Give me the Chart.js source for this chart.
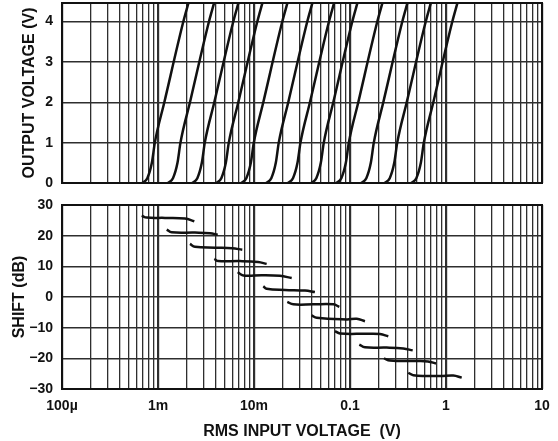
<!DOCTYPE html>
<html>
<head>
<meta charset="utf-8">
<script src="https://cdn.jsdelivr.net/npm/chart.js@4.4.1/dist/chart.umd.min.js"></script>
<style>
  body { margin: 0; background: #fff; }
  #wrap { position: relative; width: 558px; height: 441px; }
  canvas { position: absolute; left: 0; }
</style>
</head>
<body>
<div id="wrap">
  <canvas id="outChart" width="558" height="187" style="top:0"></canvas>
  <canvas id="shiftChart" width="558" height="246" style="top:195px"></canvas>
</div>
<script>
// x axis (RMS input, volts), log scale
var xMin = 1e-4;
var xMax = 10;
var xTickValues = [1e-4, 1e-3, 1e-2, 0.1, 1, 10];
var xTickLabels = ["100\u00b5", "1m", "10m", "0.1", "1", "10"];

// top panel: output voltage levels and the input where each curve hits them
var outTicks = [0, 1, 2, 3, 4];
var outMax = 4.46;
var outLevels = [0, 0.12, 0.5, 1, 2, 4, 4.45];
var outCurveInputs = [
  [6.87e-4, 7.74e-4, 8.63e-4, 9.27e-4, 1.164e-3, 1.837e-3, 2.07e-3],
  [1.271e-3, 1.432e-3, 1.596e-3, 1.714e-3, 2.153e-3, 3.396e-3, 3.828e-3],
  [2.278e-3, 2.568e-3, 2.861e-3, 3.072e-3, 3.859e-3, 6.087e-3, 6.862e-3],
  [4.051e-3, 4.566e-3, 5.087e-3, 5.464e-3, 6.862e-3, 1.083e-2, 1.22e-2],
  [7.379e-3, 8.318e-3, 9.268e-3, 9.954e-3, 1.25e-2, 1.972e-2, 2.223e-2],
  [1.343e-2, 1.514e-2, 1.687e-2, 1.811e-2, 2.275e-2, 3.589e-2, 4.046e-2],
  [2.259e-2, 2.547e-2, 2.838e-2, 3.048e-2, 3.828e-2, 6.039e-2, 6.808e-2],
  [3.954e-2, 4.457e-2, 4.966e-2, 5.333e-2, 6.699e-2, 0.1057, 0.1191],
  [0.072, 0.0812, 0.0905, 0.0972, 0.122, 0.1925, 0.217],
  [0.1312, 0.1479, 0.1648, 0.177, 0.2223, 0.3508, 0.3954],
  [0.2301, 0.2594, 0.2891, 0.3105, 0.3899, 0.6152, 0.6934],
  [0.4355, 0.4909, 0.547, 0.5875, 0.7379, 1.164, 1.312],
];

// bottom panel: shift (dB) segments
var shiftTicks = [-30, -20, -10, 0, 10, 20, 30];
var shiftTickLabels = ["\u221230", "\u221220", "\u221210", "0", "10", "20", "30"];
var shiftInputs = [
  [6.76e-4, 7.62e-4, 1.183e-3, 1.91e-3, 2.39e-3],
  [1.233e-3, 1.389e-3, 2.427e-3, 3.48e-3, 4.19e-3],
  [2.153e-3, 2.427e-3, 3.93e-3, 5.9e-3, 7.55e-3],
  [3.86e-3, 4.25e-3, 7.14e-3, 1.101e-2, 1.355e-2],
  [6.76e-3, 7.74e-3, 1.211e-2, 1.866e-2, 2.47e-2],
  [1.25e-2, 1.355e-2, 2.104e-2, 3.4e-2, 4.31e-2],
  [2.223e-2, 2.565e-2, 4.15e-2, 6.7e-2, 7.74e-2],
  [3.99e-2, 4.5e-2, 9.25e-2, 0.1175, 0.1432],
  [6.98e-2, 7.87e-2, 0.1493, 0.2053, 0.2506],
  [0.125, 0.1432, 0.241, 0.359, 0.45],
  [0.226, 0.261, 0.456, 0.649, 0.787],
  [0.405, 0.456, 0.866, 1.191, 1.458],
];
var shiftDb = [
  [26.5, 25.9, 25.8, 25.6, 24.7],
  [22.0, 21.1, 21.0, 20.8, 20.3],
  [17.3, 16.4, 16.1, 15.9, 15.4],
  [12.4, 11.7, 11.7, 11.4, 10.8],
  [8.1, 7.0, 7.1, 6.9, 6.2],
  [3.5, 2.7, 2.3, 2.1, 1.6],
  [-1.6, -2.4, -2.4, -2.4, -3.2],
  [-6.0, -6.8, -7.3, -7.1, -7.9],
  [-11.1, -11.9, -12.0, -12.1, -12.8],
  [-15.5, -16.4, -16.5, -16.8, -17.4],
  [-20.0, -20.7, -20.9, -21.0, -21.7],
  [-24.7, -25.5, -25.8, -25.6, -26.3],
];

var fontFamily = "'Liberation Sans', Arial, Helvetica, sans-serif";
var inkColor = "#111";
var gridColor = "#2e2e2e";

function isDecade(v) {
  var l = Math.log10(v);
  return Math.abs(l - Math.round(l)) < 1e-6;
}

// 1..9 in every decade, for the log grid
var xGrid = [];
for (var e = -4; e < 1; e++) {
  for (var m = 1; m < 10; m++) xGrid.push(m * Math.pow(10, e));
}
xGrid.push(10);

var boxPlugin = {
  id: "box",
  afterDraw: function (chart) {
    var a = chart.chartArea;
    var c = chart.ctx;
    c.save();
    c.strokeStyle = inkColor;
    c.lineWidth = 2;
    c.strokeRect(a.left, a.top, a.right - a.left, a.bottom - a.top);
    c.restore();
  },
};

function xScale(showLabels) {
  return {
    type: "logarithmic",
    min: xMin,
    max: xMax,
    afterBuildTicks: function (scale) {
      scale.ticks = xGrid.map(function (v) {
        return { value: v, major: isDecade(v) };
      });
    },
    afterFit: function (scale) {
      scale.height = showLabels ? 52 : 4;
      scale.paddingLeft = 0;
      scale.paddingRight = 0;
    },
    border: { display: false },
    grid: {
      color: gridColor,
      lineWidth: function (ctx) {
        return ctx.tick && isDecade(ctx.tick.value) ? 2.2 : 1.3;
      },
      drawTicks: false,
    },
    ticks: {
      display: showLabels,
      autoSkip: false,
      maxRotation: 0,
      padding: 9,
      color: inkColor,
      font: { family: fontFamily, size: 14, weight: "bold" },
      callback: function (v) {
        var i = xTickValues.findIndex(function (t) {
          return Math.abs(Math.log10(t) - Math.log10(v)) < 1e-6;
        });
        return i >= 0 ? xTickLabels[i] : "";
      },
    },
    title: {
      display: showLabels,
      text: "RMS INPUT VOLTAGE  (V)",
      color: inkColor,
      padding: { top: 0, bottom: 0 },
      font: { family: fontFamily, size: 16, weight: "bold" },
    },
  };
}

function yScale(min, max, ticks, labels, title, titleGap) {
  return {
    min: min,
    max: max,
    afterBuildTicks: function (scale) {
      scale.ticks = ticks.map(function (v) { return { value: v }; });
    },
    afterFit: function (scale) {
      scale.width = 62;
      scale.paddingTop = 0;
      scale.paddingBottom = 0;
    },
    border: { display: false },
    grid: { color: gridColor, lineWidth: 1.5, drawTicks: false },
    ticks: {
      padding: 9,
      color: inkColor,
      font: { family: fontFamily, size: 14, weight: "bold" },
      callback: function (v) {
        var i = ticks.indexOf(v);
        return labels ? labels[i] : String(v);
      },
    },
    title: {
      display: true,
      text: title,
      color: inkColor,
      padding: { top: titleGap, bottom: 0 },
      font: { family: fontFamily, size: 16, weight: "bold" },
    },
  };
}

function lineSets(xs, ys, tension) {
  return xs.map(function (row, k) {
    return {
      data: row.map(function (x, j) {
        return { x: x, y: Array.isArray(ys[0]) ? ys[k][j] : ys[j] };
      }),
      borderColor: inkColor,
      borderWidth: 2.5,
      pointRadius: 0,
      tension: tension,
      cubicInterpolationMode: tension ? "default" : "monotone",
      fill: false,
    };
  });
}

var commonOptions = {
  responsive: false,
  animation: false,
  devicePixelRatio: 1,
  plugins: { legend: { display: false }, tooltip: { enabled: false } },
};

new Chart(document.getElementById("outChart").getContext("2d"), {
  type: "line",
  data: { datasets: lineSets(outCurveInputs, outLevels, 0) },
  options: Object.assign({}, commonOptions, {
    layout: { padding: { top: 3, right: 16, left: 0, bottom: 0 } },
    scales: {
      x: xScale(false),
      y: yScale(0, outMax, outTicks, null, "OUTPUT VOLTAGE (V)", 20),
    },
  }),
  plugins: [boxPlugin],
});

new Chart(document.getElementById("shiftChart").getContext("2d"), {
  type: "line",
  data: { datasets: lineSets(shiftInputs, shiftDb, 0.4) },
  options: Object.assign({}, commonOptions, {
    layout: { padding: { top: 10, right: 16, left: 0, bottom: 0 } },
    scales: {
      x: xScale(true),
      y: yScale(-30, 30, shiftTicks, shiftTickLabels, "SHIFT (dB)", 10),
    },
  }),
  plugins: [boxPlugin],
});
</script>
</body>
</html>
